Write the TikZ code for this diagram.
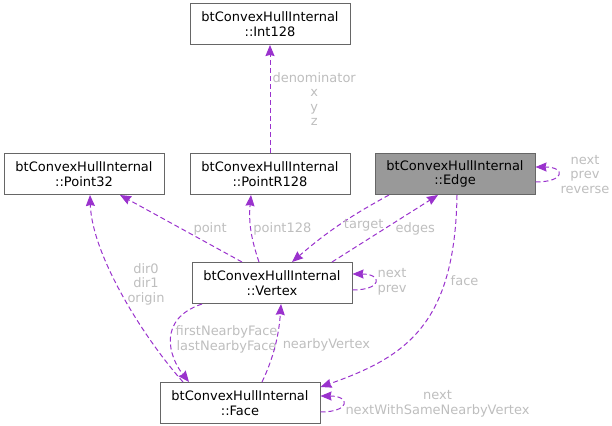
\documentclass[tikz,border=0pt]{standalone}
\usepackage{fontspec}
\setmainfont{DejaVu Sans}
\usetikzlibrary{arrows.meta, positioning}
\definecolor{boxLine}{HTML}{666666}
\definecolor{boxFocus}{HTML}{999999}
\definecolor{relPurple}{HTML}{9A32CD}
\definecolor{lblGrey}{HTML}{BEBEBE}
\tikzset{
    font=\fontsize{13}{14.5}\selectfont,
    >={Stealth[length=11pt, width=9pt, inset=1pt]},
    % Classes
    classBox/.style={rectangle, draw=boxLine, fill=white, line width=1pt,
                     minimum width=160pt, minimum height=41pt, inner sep=2pt, align=center},
    classFocus/.style={classBox, fill=boxFocus},
    % Relations & Labels
    usage/.style={->, line width=1pt, relPurple, dash pattern=on 5pt off 3pt},
    lbl/.style={text=lblGrey, align=center, inner sep=2pt}
}

\begin{document}
\begin{tikzpicture}[x=1pt, y=1pt]
\useasboundingbox (0,0) rectangle (612,-425);

% Classes
\node[classBox] (p32) at (84,-174) {btConvexHullInternal\\::Point32};
\node[classBox, right=25pt of p32] (pr128) {btConvexHullInternal\\::PointR128};
\node[classFocus, right=24pt of pr128] (edge) {btConvexHullInternal\\::Edge};
\node[classBox, above=108pt of pr128] (i128) {btConvexHullInternal\\::Int128};
\node[classBox, below=67pt of pr128, xshift=2pt] (vtx) {btConvexHullInternal\\::Vertex};
\node[classBox, below=78pt of vtx, xshift=-32pt] (face) {btConvexHullInternal\\::Face};

% Members
\draw[usage] (pr128) -- node[lbl, right] {denominator\\x\\y\\z} (i128);
\draw[usage] ([xshift=-30pt]vtx.north) -- node[lbl, right=10pt] {point} ([xshift=36pt]p32.south);
\draw[usage] ([xshift=-13pt]vtx.north) to[bend left=12] node[lbl, right] {point128} ([xshift=-19pt]pr128.south);
\draw[usage] ([xshift=-66pt]edge.south) to[bend right=6] node[lbl, right=3pt] {target} ([xshift=20pt]vtx.north);
\draw[usage] ([xshift=60pt]vtx.north) -- node[lbl, right=8pt] {edges} ([xshift=-17pt]edge.south);
\draw[usage] ([yshift=-8pt]edge.east) .. controls +(30,0) and +(30,0) .. node[lbl, right] {next\\prev\\reverse} ([yshift=7pt]edge.east);
\draw[usage] ([yshift=-7pt]vtx.east) .. controls +(30,0) and +(30,0) .. node[lbl, right] {next\\prev} ([yshift=9pt]vtx.east);
\draw[usage] ([xshift=-57pt]face.north) .. controls +(-40,45) and +(2,-60) .. node[lbl, pos=0.55, right=8pt] {dir0\\dir1\\origin} ([xshift=6pt]p32.south);
\draw[usage] ([xshift=-70pt]vtx.south) .. controls +(-45,-15) and +(-20,25) .. node[lbl, right=2pt] {firstNearbyFace\\lastNearbyFace} ([xshift=-51pt]face.north);
\draw[usage] ([xshift=22pt]face.north) .. controls +(12,25) and +(-2,-30) .. node[lbl, right=5pt] {nearbyVertex} ([xshift=9pt]vtx.south);
\draw[usage] ([xshift=2pt]edge.south) .. controls +(-2,-130) and +(85,30) .. node[lbl, pos=0.27, right=3pt] {face} ([yshift=16pt]face.east);
\draw[usage] ([yshift=-9pt]face.east) .. controls +(30,0) and +(30,0) .. node[lbl, right] {next\\nextWithSameNearbyVertex} ([yshift=7pt]face.east);

\end{tikzpicture}
\end{document}
